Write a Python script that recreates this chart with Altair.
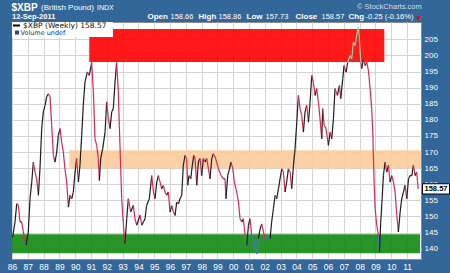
import altair as alt
import pandas as pd

# ---- data ----
years = [1986.04, 1986.19, 1986.30, 1986.40, 1986.51, 1986.61, 1986.72, 1986.82, 1986.89, 1987.03,
         1987.14, 1987.25, 1987.35, 1987.46, 1987.56, 1987.67, 1987.77, 1987.88, 1987.98, 1988.09,
         1988.19, 1988.30, 1988.41, 1988.51, 1988.62, 1988.72, 1988.83, 1988.93, 1989.04, 1989.14,
         1989.25, 1989.35, 1989.46, 1989.57, 1989.67, 1989.78, 1989.88, 1989.99, 1990.09, 1990.20,
         1990.30, 1990.41, 1990.51, 1990.62, 1990.77, 1990.89, 1991.04, 1991.15, 1991.25, 1991.36,
         1991.46, 1991.53, 1991.61, 1991.74, 1991.89, 1991.99, 1992.10, 1992.20, 1992.31, 1992.41,
         1992.52, 1992.62, 1992.73, 1992.79, 1992.88, 1992.94, 1993.05, 1993.15, 1993.26, 1993.36,
         1993.51, 1993.68, 1993.78, 1993.89, 1994.10, 1994.21, 1994.42, 1994.52, 1994.69, 1994.84,
         1994.95, 1995.05, 1995.16, 1995.26, 1995.37, 1995.47, 1995.58, 1995.68, 1995.79, 1995.89,
         1996.00, 1996.11, 1996.21, 1996.32, 1996.42, 1996.53, 1996.63, 1996.74, 1996.84, 1996.95,
         1997.05, 1997.12, 1997.20, 1997.31, 1997.41, 1997.50, 1997.58, 1997.69, 1997.79, 1997.90,
         1998.00, 1998.11, 1998.22, 1998.32, 1998.43, 1998.53, 1998.64, 1998.74, 1998.85, 1998.95,
         1999.06, 1999.23, 1999.38, 1999.48, 1999.54, 1999.65, 1999.76, 1999.86, 1999.97, 2000.07,
         2000.22, 2000.33, 2000.43, 2000.54, 2000.64, 2000.75, 2000.85, 2000.96, 2001.06, 2001.17,
         2001.28, 2001.38, 2001.49, 2001.59, 2001.70, 2001.80, 2001.91, 2002.01, 2002.12, 2002.22,
         2002.33, 2002.43, 2002.54, 2002.65, 2002.75, 2002.86, 2002.96, 2003.07, 2003.17, 2003.28,
         2003.38, 2003.49, 2003.60, 2003.70, 2003.81, 2003.91, 2004.02, 2004.12, 2004.23, 2004.33,
         2004.44, 2004.54, 2004.65, 2004.76, 2004.86, 2004.97, 2005.07, 2005.18, 2005.28, 2005.39,
         2005.49, 2005.60, 2005.66, 2005.75, 2005.87, 2006.02, 2006.13, 2006.23, 2006.34, 2006.44,
         2006.59, 2006.72, 2006.80, 2006.93, 2007.01, 2007.14, 2007.24, 2007.39, 2007.50, 2007.60,
         2007.71, 2007.81, 2007.92, 2007.98, 2008.07, 2008.13, 2008.24, 2008.34, 2008.45, 2008.55,
         2008.66, 2008.76, 2008.83, 2008.91, 2008.98, 2009.08, 2009.19, 2009.25, 2009.33, 2009.42,
         2009.50, 2009.61, 2009.71, 2009.82, 2009.92, 2010.03, 2010.14, 2010.24, 2010.35, 2010.45,
         2010.56, 2010.66, 2010.77, 2010.87, 2010.98, 2011.09, 2011.19, 2011.30, 2011.40, 2011.51,
         2011.61, 2011.70]
prices = [143.6, 148.3, 154.0, 153.5, 148.3, 148.3, 145.2, 142.1, 141.1, 145.2,
          155.5, 160.7, 166.9, 163.8, 161.7, 156.6, 164.8, 177.3, 182.5, 184.5,
          187.1, 188.1, 187.1, 178.3, 169.0, 166.9, 170.0, 175.2, 177.3, 173.1,
          170.0, 164.8, 160.7, 152.9, 156.6, 155.5, 157.6, 163.8, 168.0, 160.7,
          165.9, 175.2, 184.5, 191.8, 194.9, 193.8, 197.8, 188.7, 174.2, 172.1,
          168.0, 161.2, 168.0, 171.1, 176.3, 185.6, 180.4, 177.3, 182.5, 183.5,
          191.8, 197.8, 188.7, 178.3, 164.8, 155.5, 147.3, 141.6, 149.3, 155.5,
          151.4, 153.5, 149.3, 147.3, 150.4, 147.3, 149.3, 153.5, 155.5, 162.7,
          157.6, 155.5, 160.7, 162.7, 160.7, 158.6, 159.6, 157.6, 156.6, 157.6,
          151.4, 153.4, 151.4, 150.3, 154.5, 153.9, 155.5, 156.6, 165.9, 169.0,
          168.0, 159.7, 162.7, 161.7, 165.9, 169.0, 168.0, 159.7, 166.9, 168.0,
          162.7, 168.0, 166.9, 168.0, 164.8, 161.7, 168.0, 169.5, 168.5, 166.9,
          164.8, 162.7, 161.7, 161.7, 155.5, 162.7, 164.8, 166.9, 164.8, 160.7,
          157.6, 154.5, 149.3, 148.3, 149.3, 144.1, 141.0, 147.2, 149.3, 144.1,
          143.1, 140.0, 138.4, 143.1, 146.2, 147.7, 145.2, 143.1, 144.1, 143.1,
          143.1, 148.3, 152.4, 156.6, 155.5, 158.6, 161.7, 164.8, 163.8, 157.6,
          160.7, 164.8, 163.8, 158.6, 165.9, 171.0, 179.3, 187.6, 183.5, 181.4,
          176.2, 182.4, 184.5, 179.3, 185.5, 193.8, 191.7, 187.6, 189.7, 185.5,
          180.4, 174.1, 183.5, 178.3, 177.3, 172.1, 176.2, 174.1, 180.4, 189.7,
          187.6, 190.7, 186.6, 192.8, 196.9, 194.8, 197.9, 200.0, 199.0, 204.2,
          203.1, 206.2, 208.8, 205.2, 197.9, 195.9, 199.0, 196.9, 197.9, 195.4,
          189.7, 183.5, 176.2, 160.7, 152.4, 147.2, 144.1, 138.9, 148.2, 155.5,
          162.7, 166.9, 163.8, 165.9, 160.7, 162.7, 160.7, 157.6, 150.3, 145.2,
          151.4, 155.5, 157.6, 159.7, 155.5, 161.7, 162.7, 162.7, 165.9, 162.7,
          163.8, 158.57]

band_names = ["resistance", "middle", "support"]
band_start = [1990.89, 1989.63, 1986.0]
band_end = [2009.56, 2011.88, 2011.82]
band_low = [198.0, 165.0, 138.6]
band_high = [208.2, 170.6, 144.5]
band_colors = ["#ff0000", "#fbcb9a", "#118a11"]

year_ticks = list(range(1986, 2012))
price_ticks = list(range(140, 206, 5))
last_close = 158.57

# ---- derived tables ----
seg = pd.DataFrame({
    "x": years[:-1], "x2": years[1:], "y": prices[:-1], "y2": prices[1:],
})
seg_colors = {"up": "#1e1e1e", "down": "#d8284f", "high": "#7fdca6", "low": "#4a6fdc"}


def kind(a, b):
    if a >= 197.5 and b >= 197.5:
        return "high"
    if a <= 144.6 and b <= 144.6:
        return "low"
    return "up" if b >= a else "down"


seg["c"] = [seg_colors[kind(a, b)] for a, b in zip(seg["y"], seg["y2"])]

bands = pd.DataFrame({"name": band_names, "x": band_start, "x2": band_end,
                      "lo": band_low, "hi": band_high, "c": band_colors})

XD = [1986.0, 2011.88]
YD = [136.8, 210.4]
xs = alt.Scale(domain=XD, nice=False, zero=False)
ys = alt.Scale(domain=YD, nice=False, zero=False)

xaxis = alt.Axis(values=year_ticks, labelExpr="substring(toString(datum.value), 2)",
                 labelColor="white", labelFontSize=8.5, labelFont="Liberation Sans",
                 tickSize=0, domain=False, gridColor="#d4d4d4", labelPadding=3,
                 title=None, labelFlush=False, labelOverlap=False)
yaxis = alt.Axis(values=price_ticks, orient="right", labelColor="white", labelFontSize=8,
                 labelFont="Liberation Sans", tickSize=0, domain=False, gridColor="#d4d4d4",
                 labelPadding=3, title=None, labelFlush=False, labelOverlap=False)

band_layer = alt.Chart(bands).mark_rect(opacity=0.9).encode(
    x=alt.X("x:Q", scale=xs, axis=xaxis),
    x2="x2:Q",
    y=alt.Y("lo:Q", scale=ys, axis=yaxis),
    y2="hi:Q",
    color=alt.Color("c:N", scale=None),
)

line_layer = alt.Chart(seg).mark_rule(strokeWidth=1.2).encode(
    x=alt.X("x:Q", scale=xs, axis=xaxis),
    x2="x2:Q",
    y=alt.Y("y:Q", scale=ys, axis=yaxis),
    y2="y2:Q",
    color=alt.Color("c:N", scale=None),
)

OX, OY = 12, 22  # plot origin in the page


def label(txt, x, y, size, weight="normal", color="white", align="left", font="Liberation Sans"):
    return alt.Chart(pd.DataFrame({"t": [txt]})).mark_text(
        align=align, baseline="middle", fontSize=size, fontWeight=weight, color=color, font=font
    ).encode(text="t:N", x=alt.value(x - OX), y=alt.value(y - OY))


one = pd.DataFrame({"a": [1]})
legend_bg = alt.Chart(one).mark_rect(color="white").encode(
    x=alt.value(0), x2=alt.value(101), y=alt.value(0), y2=alt.value(15))
legend_dash = alt.Chart(one).mark_rule(color="black", strokeWidth=2).encode(
    x=alt.value(1), x2=alt.value(8), y=alt.value(3.5))
vol_icon = alt.Chart(one).mark_rect(color="#334477").encode(
    x=alt.value(3), x2=alt.value(7), y=alt.value(8.5), y2=alt.value(12.5))

texts = [
    label("$XBP", 11.5, 7.5, 10, "bold"),
    label("(British Pound)", 41, 8, 8),
    label("INDX", 97, 8, 7),
    label("12-Sep-2011", 12, 17, 7.5, "bold"),
    label("Open", 147.5, 17.3, 8, "bold"),
    label("158.66", 170.5, 17.3, 7.5),
    label("High", 198.5, 17.3, 8, "bold"),
    label("158.86", 218.5, 17.3, 7.5),
    label("Low", 246.5, 17.3, 8, "bold"),
    label("157.73", 265.5, 17.3, 7.5),
    label("Close", 295.5, 17.3, 8, "bold"),
    label("158.57", 321.5, 17.3, 7.5),
    label("Chg", 348.5, 17.3, 8, "bold"),
    label("-0.25 (-0.16%)", 365.5, 17.3, 7.5),
    label("\u25BC", 416.5, 17.5, 6, color="#dd1111", font="DejaVu Sans"),
    label("\u00A9 StockCharts.com", 357, 7.3, 7.5, color="#d2deec"),
    label("$XBP (Weekly) 158.57", 23, 25.5, 7.5, color="#111111", font="DejaVu Sans"),
    label("Volume undef", 20.5, 32.5, 6.5, color="#223366", font="DejaVu Sans"),
]

tag_df = pd.DataFrame({"p": [last_close], "t": [f"{last_close:.2f}"]})
tag_box = alt.Chart(tag_df).mark_point(
    shape="M-1,-0.38L1,-0.38L1,0.38L-1,0.38Z", size=729, filled=True, fill="white",
    stroke="black", strokeWidth=1, opacity=1
).encode(x=alt.value(424), y=alt.Y("p:Q", scale=ys, axis=yaxis))
tag_text = alt.Chart(tag_df).mark_text(
    fontSize=7.5, fontWeight="bold", color="black", font="Liberation Sans"
).encode(x=alt.value(424), y=alt.Y("p:Q", scale=ys, axis=yaxis), text="t:N")

chart = alt.layer(
    band_layer, line_layer, legend_bg, legend_dash, vol_icon, tag_box, tag_text, *texts
).properties(
    width=409, height=237,
    padding={"left": 12, "top": 22, "right": 29, "bottom": 14},
    autosize=alt.AutoSizeParams(type="none"),
    background="#336699",
).configure_view(fill="white", stroke="#8a8a8a")

chart.save("out.html", embed_options={"renderer": "svg", "actions": False})
